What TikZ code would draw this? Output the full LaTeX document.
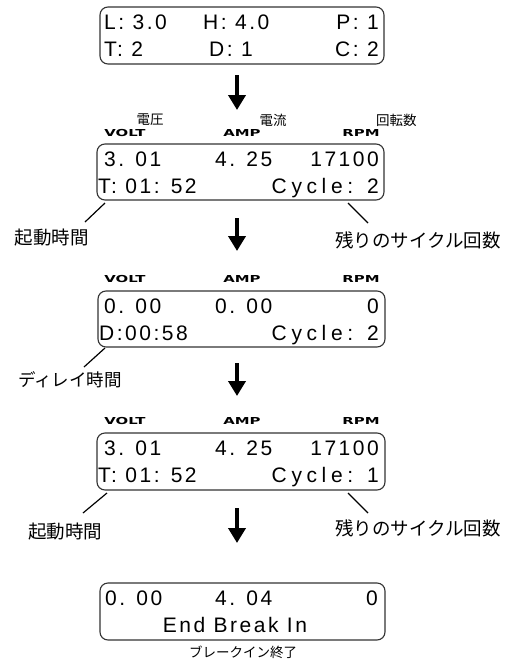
\documentclass[tikz,border=0pt]{standalone}
\usepackage{graphicx}
\usepackage{fontspec}
\setmainfont{Liberation Sans}
\newfontfamily\lcdfont[LetterSpace=12]{Liberation Sans}
\newfontfamily\lcdwide[LetterSpace=22]{Liberation Sans}
\newfontfamily\tagfont{DejaVu Sans}
\newfontfamily\jpfont{Noto Sans CJK JP}
\newcommand{\tagtext}[1]{\scalebox{1.55}[1]{\tagfont\bfseries #1}}
\usetikzlibrary{arrows.meta}
\begin{document}
\begin{tikzpicture}[x=1pt,y=-1pt,
  lcdbox/.style={draw=black!80, line width=1.1pt, rounded corners=8pt, inner sep=0pt},
  lcd/.style={font=\lcdfont\fontsize{21}{21}\selectfont, inner sep=0pt},
  lcdw/.style={font=\lcdwide\fontsize{21}{21}\selectfont, inner sep=0pt},
  tag/.style={font=\fontsize{9.6}{10}\selectfont, inner sep=0pt},
  jpbig/.style={font=\jpfont\fontsize{18.5}{19}\selectfont, inner sep=0pt},
  jpmid/.style={font=\jpfont\fontsize{17.5}{18}\selectfont, inner sep=0pt},
  jpsmall/.style={font=\jpfont\fontsize{13.5}{14}\selectfont, inner sep=0pt},
  arr/.style={line width=4pt, -{Triangle[width=17pt,length=15pt]}},
  leader/.style={line width=1.2pt}]
\useasboundingbox (0,0) rectangle (505,659);

% ---- box 1
\node[lcdbox, minimum width=284pt, minimum height=57pt] (b1) at (242,35.5) {};
\node[lcd, anchor=base west] (b1a) at (104,29.5) {L: 3.0};
\node[lcd, anchor=base west] (b1b) at (203,29.5) {H: 4.0};
\node[lcd, anchor=base east] (b1c) at (379,29.5) {P: 1};
\node[lcd, anchor=base west] (b1d) at (104,56.5) {T: 2};
\node[lcd, anchor=base west] (b1e) at (209,56.5) {D: 1};
\node[lcd, anchor=base east] (b1f) at (379,56.5) {C: 2};

\coordinate (a1s) at (237,75); \coordinate (a1e) at (237,110);
\draw[arr] (a1s) -- (a1e);

% ---- box 2
\node[jpsmall] (j1) at (150,120) {電圧};
\node[jpsmall] (j2) at (273,120) {電流};
\node[jpsmall, anchor=west] (j3) at (376,120) {回転数};
\node[tag] (v2) at (125,133) {\tagtext{VOLT}};
\node[tag] (m2) at (242,133) {\tagtext{AMP}};
\node[tag] (r2) at (361,133) {\tagtext{RPM}};
\node[lcdbox, minimum width=287pt, minimum height=56pt] (b2) at (240.5,172) {};
\node[lcd, anchor=base west] (b2a) at (104,166.5) {3. 01};
\node[lcd, anchor=base west] (b2b) at (215,166.5) {4. 25};
\node[lcd, anchor=base east] (b2c) at (379,166.5) {17100};
\node[lcd, anchor=base west] (b2d) at (98,193.5) {T: 01: 52};
\node[lcdw, anchor=base east] (b2e) at (379,193.5) {Cycle: 2};

\coordinate (l2a) at (105,203); \coordinate (l2b) at (85,222);
\coordinate (l2c) at (348,203); \coordinate (l2d) at (368,223);
\draw[leader] (l2a) -- (l2b);
\draw[leader] (l2c) -- (l2d);
\node[jpbig] (k2) at (52,238) {起動時間};
\node[jpbig] (n2) at (418,240) {残りのサイクル回数};

\coordinate (a2s) at (237,218); \coordinate (a2e) at (237,251);
\draw[arr] (a2s) -- (a2e);

% ---- box 3
\node[tag] (v3) at (125,279) {\tagtext{VOLT}};
\node[tag] (m3) at (242,279) {\tagtext{AMP}};
\node[tag] (r3) at (361,279) {\tagtext{RPM}};
\node[lcdbox, minimum width=287pt, minimum height=56pt] (b3) at (241.5,319) {};
\node[lcd, anchor=base west] (b3a) at (104,313.5) {0. 00};
\node[lcd, anchor=base west] (b3b) at (215,313.5) {0. 00};
\node[lcd, anchor=base east] (b3c) at (379,313.5) {0};
\node[lcd, anchor=base west] (b3d) at (99,340.5) {D:00:58};
\node[lcdw, anchor=base east] (b3e) at (379,340.5) {Cycle: 2};

\coordinate (l3a) at (105,348); \coordinate (l3b) at (84,367);
\draw[leader] (l3a) -- (l3b);
\node[jpmid] (d3) at (70,380) {ディレイ時間};

\coordinate (a3s) at (237,363); \coordinate (a3e) at (237,396);
\draw[arr] (a3s) -- (a3e);

% ---- box 4
\node[tag] (v4) at (125,421) {\tagtext{VOLT}};
\node[tag] (m4) at (242,421) {\tagtext{AMP}};
\node[tag] (r4) at (361,421) {\tagtext{RPM}};
\node[lcdbox, minimum width=288pt, minimum height=57pt] (b4) at (241,461.5) {};
\node[lcd, anchor=base west] (b4a) at (104,455.5) {3. 01};
\node[lcd, anchor=base west] (b4b) at (215,455.5) {4. 25};
\node[lcd, anchor=base east] (b4c) at (379,455.5) {17100};
\node[lcd, anchor=base west] (b4d) at (98,482.5) {T: 01: 52};
\node[lcdw, anchor=base east] (b4e) at (379,482.5) {Cycle: 1};

\coordinate (l4a) at (107,493); \coordinate (l4b) at (83,513);
\coordinate (l4c) at (348,493); \coordinate (l4d) at (368,513);
\draw[leader] (l4a) -- (l4b);
\draw[leader] (l4c) -- (l4d);
\node[jpbig] (k4) at (65,532) {起動時間};
\node[jpbig] (n4) at (418,528) {残りのサイクル回数};

\coordinate (a4s) at (237,508); \coordinate (a4e) at (237,543);
\draw[arr] (a4s) -- (a4e);

% ---- box 5
\node[lcdbox, minimum width=285pt, minimum height=57pt] (b5) at (242.5,611.5) {};
\node[lcd, anchor=base west] (b5a) at (105,605.5) {0. 00};
\node[lcd, anchor=base west] (b5b) at (215,605.5) {4. 04};
\node[lcd, anchor=base east] (b5c) at (378,605.5) {0};
\node[lcd, anchor=base] (b5d) at (235,632.5) {End Break In};
\node[jpsmall] (e5) at (243,652) {ブレークイン終了};
\end{tikzpicture}
\end{document}
